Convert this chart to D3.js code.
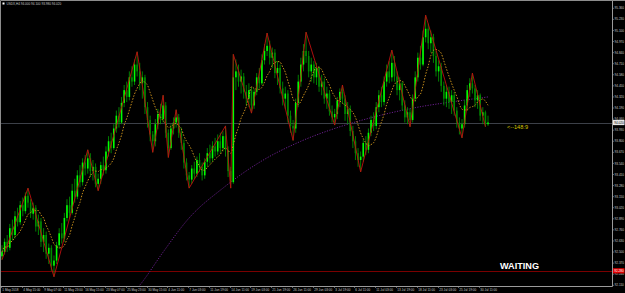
<!DOCTYPE html>
<html>
<head>
<meta charset="utf-8">
<script src="https://cdn.jsdelivr.net/npm/d3@7"></script>
<style>
  body { margin: 0; background: #000; }
  svg { display: block; }
  text { font-family: "Liberation Sans", Arial, sans-serif; }
</style>
</head>
<body>
<svg width="625" height="293"></svg>
<script>
// Chart data
const symbol = "USDX,H4";
const firstOpen = 92.45;
const closes = [
  92.50,92.62,92.55,92.78,92.70,92.92,92.85,93.05,92.98,93.16,93.08,92.95,93.02,92.80,92.86,92.62,92.70,92.48,92.55,92.34,
  92.40,92.58,92.72,92.66,92.90,93.05,92.96,93.22,93.15,93.40,93.32,93.55,93.48,93.60,93.45,93.50,93.30,93.36,93.52,93.46,
  93.68,93.80,93.72,93.95,94.10,94.02,94.25,94.40,94.32,94.55,94.50,94.70,94.62,94.48,94.55,94.20,94.05,93.88,93.80,94.00,
  94.12,94.06,94.22,93.90,93.72,93.95,94.02,94.08,93.90,93.78,93.55,93.40,93.35,93.48,93.42,93.58,93.50,93.40,93.56,93.66,
  93.60,93.74,93.68,93.80,93.72,93.86,93.70,93.45,93.32,94.55,94.62,94.50,94.56,94.38,94.30,94.40,94.22,94.38,94.55,94.48,
  94.75,94.86,94.92,94.78,94.84,94.60,94.66,94.42,94.30,94.36,94.10,93.98,93.95,94.25,94.50,94.70,94.86,94.80,94.62,94.70,
  94.55,94.66,94.44,94.50,94.30,94.36,94.15,94.08,94.12,94.28,94.38,94.30,94.12,94.18,93.92,93.80,93.66,93.58,93.62,93.78,
  93.70,93.90,94.05,93.98,94.20,94.34,94.26,94.50,94.62,94.55,94.72,94.56,94.40,94.48,94.22,94.08,94.14,94.05,94.30,94.55,
  94.78,94.70,95.02,95.12,94.95,95.02,94.80,94.62,94.68,94.45,94.30,94.38,94.26,94.34,94.16,94.02,93.95,94.00,94.22,94.40,
  94.48,94.42,94.28,94.34,94.10,94.14,94.00,94.02
];
const highs = [
  92.58,92.66,92.70,92.83,92.88,92.98,93.02,93.10,93.14,93.20,93.25,93.12,93.08,93.05,92.94,92.90,92.78,92.74,92.60,92.58,
  92.46,92.62,92.78,92.84,92.96,93.12,93.15,93.30,93.36,93.46,93.52,93.60,93.64,93.70,93.66,93.58,93.54,93.42,93.56,93.62,
  93.74,93.86,93.90,94.00,94.16,94.20,94.32,94.46,94.50,94.62,94.68,94.76,94.85,94.72,94.62,94.58,94.26,94.10,93.92,94.06,
  94.18,94.24,94.34,94.26,93.94,94.00,94.08,94.17,94.12,93.96,93.82,93.60,93.44,93.52,93.56,93.62,93.66,93.55,93.60,93.72,
  93.76,93.80,93.84,93.88,93.90,93.92,93.98,93.74,93.50,94.82,94.76,94.70,94.64,94.60,94.46,94.48,94.44,94.42,94.60,94.66,
  94.82,94.94,95.07,94.98,94.90,94.88,94.74,94.70,94.50,94.44,94.40,94.16,94.05,94.30,94.58,94.78,94.94,95.08,94.86,94.78,
  94.74,94.72,94.68,94.58,94.54,94.44,94.40,94.22,94.18,94.32,94.42,94.46,94.34,94.26,94.22,93.98,93.86,93.72,93.68,93.82,
  93.86,93.95,94.10,94.14,94.26,94.40,94.44,94.56,94.70,94.74,94.87,94.80,94.62,94.55,94.50,94.28,94.20,94.18,94.35,94.62,
  94.84,94.92,95.10,95.28,95.18,95.10,95.06,94.86,94.75,94.72,94.50,94.46,94.44,94.40,94.38,94.20,94.08,94.06,94.28,94.46,
  94.54,94.60,94.46,94.40,94.36,94.20,94.16,94.10
];
const lows = [
  92.41,92.47,92.50,92.52,92.64,92.66,92.80,92.82,92.92,92.95,93.02,92.90,92.88,92.74,92.70,92.56,92.50,92.42,92.36,92.28,
  92.21,92.36,92.54,92.60,92.62,92.86,92.90,92.94,93.08,93.12,93.26,93.28,93.40,93.42,93.38,93.34,93.26,93.22,93.30,93.40,
  93.42,93.62,93.66,93.70,93.90,93.96,94.00,94.20,94.26,94.28,94.44,94.46,94.56,94.40,94.30,94.12,93.96,93.80,93.67,93.74,
  93.94,94.00,94.02,93.84,93.61,93.70,93.88,93.96,93.84,93.70,93.48,93.34,93.25,93.30,93.36,93.38,93.44,93.34,93.36,93.50,
  93.54,93.56,93.62,93.64,93.66,93.68,93.62,93.38,93.25,93.30,94.40,94.44,94.36,94.30,94.22,94.20,94.13,94.18,94.34,94.42,
  94.46,94.70,94.80,94.70,94.66,94.54,94.46,94.36,94.22,94.18,94.02,93.90,93.81,93.90,94.20,94.44,94.62,94.72,94.55,94.50,
  94.48,94.46,94.38,94.34,94.24,94.18,94.10,94.02,93.99,94.06,94.20,94.24,94.04,94.00,93.86,93.72,93.58,93.50,93.44,93.56,
  93.64,93.66,93.86,93.92,93.94,94.14,94.20,94.22,94.44,94.48,94.50,94.50,94.34,94.28,94.16,94.02,94.00,93.97,94.02,94.26,
  94.50,94.64,94.68,94.96,94.88,94.84,94.72,94.56,94.50,94.38,94.22,94.20,94.18,94.12,94.10,93.96,93.88,93.84,93.96,94.16,
  94.32,94.36,94.20,94.18,94.04,94.00,93.97,93.98
];
// zigzag pivots [bar, price]
const zigzag = [
  [0,92.41],[10,93.25],[20,92.21],[33,93.70],[37,93.22],[52,94.85],[58,93.67],[62,94.34],[64,93.61],
  [67,94.17],[72,93.25],[86,93.98],[88,93.25],[89,94.82],[96,94.13],[102,95.07],[112,93.81],[117,95.08],
  [128,93.99],[131,94.46],[138,93.44],[150,94.87],[157,93.97],[163,95.28],[177,93.84],[181,94.60],[186,93.97]
];
// slow moving average [bar, price]
const slowMA = [
  [50,92.00],[54,92.15],[62,92.50],[72,92.90],[85,93.25],[100,93.57],[115,93.80],
  [130,93.97],[145,94.10],[160,94.20],[175,94.27],[187,94.32]
];
const FAST_PERIOD = 8;
const timeLabels = [
  "1 May 2018","4 May 15:00","9 May 07:00","11 May 23:00","16 May 15:00","23 May 07:00",
  "25 May 23:00","30 May 15:00","4 Jun 11:00","7 Jun 03:00","11 Jun 19:00","14 Jun 11:00",
  "19 Jun 03:00","21 Jun 19:00","26 Jun 11:00","29 Jun 03:00","3 Jul 19:00","6 Jul 11:00",
  "11 Jul 03:00","13 Jul 19:00","18 Jul 11:00","23 Jul 03:00","25 Jul 19:00","30 Jul 11:00"
];
const BARS_PER_LABEL = 8;
const priceTicks = [
  95.36,95.23,95.10,94.97,94.84,94.71,94.58,94.45,94.32,94.19,94.06,93.93,93.80,
  93.67,93.54,93.41,93.28,93.15,93.02,92.89,92.76,92.63,92.50,92.37,92.24,92.11
];
const alertLevel = 92.28;
const signalText = "<--148:9";
const statusText = "WAITING";

// Layout
const W = 625, H = 293;
const PLOT_RIGHT = 612, PLOT_BOTTOM = 286, PLOT_TOP = 2, PLOT_LEFT = 1;
const SMALL = 3.1; // axis font, the original screenshot is scaled down a lot
const fmt = d3.format(".3f");

const svg = d3.select("svg");
svg.append("rect").attr("width", W).attr("height", H).attr("fill", "#000");

const x = d3.scaleLinear().domain([0, closes.length - 1]).range([2, 488]);
const y = d3.scaleLinear().domain([92.11, 95.36]).range([285.3, 8.3]);

svg.append("clipPath").attr("id", "plot")
  .append("rect").attr("x", PLOT_LEFT).attr("y", PLOT_TOP)
  .attr("width", PLOT_RIGHT - PLOT_LEFT).attr("height", PLOT_BOTTOM - PLOT_TOP);

const plot = svg.append("g").attr("clip-path", "url(#plot)");

// bars
const bars = closes.map((c, i) => ({
  i, close: c, open: i ? closes[i - 1] : firstOpen, high: highs[i], low: lows[i]
}));

// horizontal levels under the bars
plot.append("line")
  .attr("x1", 0).attr("x2", PLOT_RIGHT)
  .attr("y1", Math.round(y(alertLevel)) + 0.5).attr("y2", Math.round(y(alertLevel)) + 0.5)
  .attr("stroke", "#7a0000").attr("stroke-width", 1);
const last = bars[bars.length - 1];
plot.append("line")
  .attr("x1", 0).attr("x2", PLOT_RIGHT)
  .attr("y1", Math.round(y(last.close)) + 0.5).attr("y2", Math.round(y(last.close)) + 0.5)
  .attr("stroke", "#3c4048").attr("stroke-width", 1);

// slow MA (purple dots)
plot.append("path")
  .datum(slowMA)
  .attr("d", d3.line().x(d => x(d[0])).y(d => y(d[1])).curve(d3.curveMonotoneX))
  .attr("fill", "none").attr("stroke", "#6b1f8f").attr("stroke-width", 1)
  .attr("stroke-dasharray", "1.2,1.4");

// candles
const candle = plot.selectAll("g.bar").data(bars).join("g").attr("class", "bar");
candle.append("line")
  .attr("x1", d => x(d.i)).attr("x2", d => x(d.i))
  .attr("y1", d => y(d.high)).attr("y2", d => y(d.low))
  .attr("stroke", "#00a000").attr("stroke-width", 0.8);
candle.append("rect")
  .attr("x", d => x(d.i) - 0.8).attr("width", 1.6)
  .attr("y", d => y(Math.max(d.open, d.close)))
  .attr("height", d => Math.max(0.6, Math.abs(y(d.open) - y(d.close))))
  .attr("fill", d => d.close >= d.open ? "#00ff00" : "#008a00");

// fast MA (orange dots), computed from closes
const fastMA = closes.map((c, i) => [i, d3.mean(closes.slice(Math.max(0, i - FAST_PERIOD + 1), i + 1))]);
plot.append("path")
  .datum(fastMA)
  .attr("d", d3.line().x(d => x(d[0])).y(d => y(d[1])).curve(d3.curveMonotoneX))
  .attr("fill", "none").attr("stroke", "#c8901c").attr("stroke-width", 1)
  .attr("stroke-dasharray", "1.5,1.5");

// zigzag (red)
plot.append("path")
  .datum(zigzag)
  .attr("d", d3.line().x(d => x(d[0])).y(d => y(d[1])))
  .attr("fill", "none").attr("stroke", "#c01010").attr("stroke-width", 0.9);

// frame
svg.append("path")
  .attr("d", `M0.5,${H}V0.5H${W}`)
  .attr("fill", "none").attr("stroke", "#8c8c8c").attr("stroke-width", 1);
svg.append("line")
  .attr("x1", PLOT_RIGHT + 0.5).attr("x2", PLOT_RIGHT + 0.5).attr("y1", 1).attr("y2", PLOT_BOTTOM + 0.5)
  .attr("stroke", "#9a9a9a");
svg.append("line")
  .attr("x1", 0).attr("x2", PLOT_RIGHT + 0.5).attr("y1", PLOT_BOTTOM + 0.5).attr("y2", PLOT_BOTTOM + 0.5)
  .attr("stroke", "#9a9a9a");

// price axis
const yTicks = svg.append("g").selectAll("g").data(priceTicks).join("g")
  .attr("transform", d => `translate(${PLOT_RIGHT},${y(d)})`);
yTicks.append("line").attr("x1", 0).attr("x2", 2).attr("stroke", "#9a9a9a").attr("stroke-width", 0.6);
yTicks.append("text").attr("x", 2.6).attr("dy", "0.35em")
  .attr("font-size", SMALL).attr("fill", "#c8c8c8").text(d => fmt(d));

// bid and alert labels
const priceBox = (value, bg, fg) => {
  const g = svg.append("g").attr("transform", `translate(${PLOT_RIGHT + 1},${y(value)})`);
  g.append("rect").attr("x", 0).attr("y", -2.6).attr("width", 11.5).attr("height", 5.2).attr("fill", bg);
  g.append("text").attr("x", 1.2).attr("dy", "0.35em").attr("font-size", SMALL).attr("fill", fg).text(fmt(value));
};
priceBox(last.close, "#e8e8e8", "#000");
priceBox(alertLevel, "#e00000", "#ffffff");

// time axis
const labelStep = x(BARS_PER_LABEL) - x(0);
const xTicks = svg.append("g").selectAll("g").data(timeLabels).join("g")
  .attr("transform", (d, k) => `translate(${Math.round(x(k * BARS_PER_LABEL)) - 0.5},${PLOT_BOTTOM})`);
xTicks.append("line").attr("y1", 0).attr("y2", 2).attr("stroke", "#9a9a9a").attr("stroke-width", 0.6);
xTicks.append("text").attr("x", 0.8).attr("y", 5.3)
  .attr("font-size", SMALL).attr("fill", "#c8c8c8").text(d => d)
  .each(function () {
    // keep each label inside its slot
    const len = this.getComputedTextLength();
    if (len > labelStep - 2.5) d3.select(this).attr("textLength", labelStep - 2.5).attr("lengthAdjust", "spacingAndGlyphs");
  });

// header
svg.append("rect").attr("x", 2.5).attr("y", 2.5).attr("width", 2).attr("height", 2).attr("fill", "#fff");
svg.append("text").attr("x", 6.5).attr("y", 4.8).attr("font-size", SMALL).attr("fill", "#c8c8c8")
  .text(`${symbol} ${fmt(last.open)} ${fmt(last.high)} ${fmt(last.low)} ${fmt(last.close)}`);

// signal labels
svg.append("text").attr("x", 507).attr("y", y(last.close) + 6)
  .attr("font-family", "DejaVu Sans, sans-serif")
  .attr("font-size", 5.6).attr("fill", "#d8c400").text(signalText);
svg.append("text").attr("x", 500).attr("y", 268.5)
  .attr("font-weight", "bold")
  .attr("font-size", 9.5).attr("fill", "#ffffff")
  .attr("textLength", 39).attr("lengthAdjust", "spacingAndGlyphs").text(statusText);
</script>
</body>
</html>
